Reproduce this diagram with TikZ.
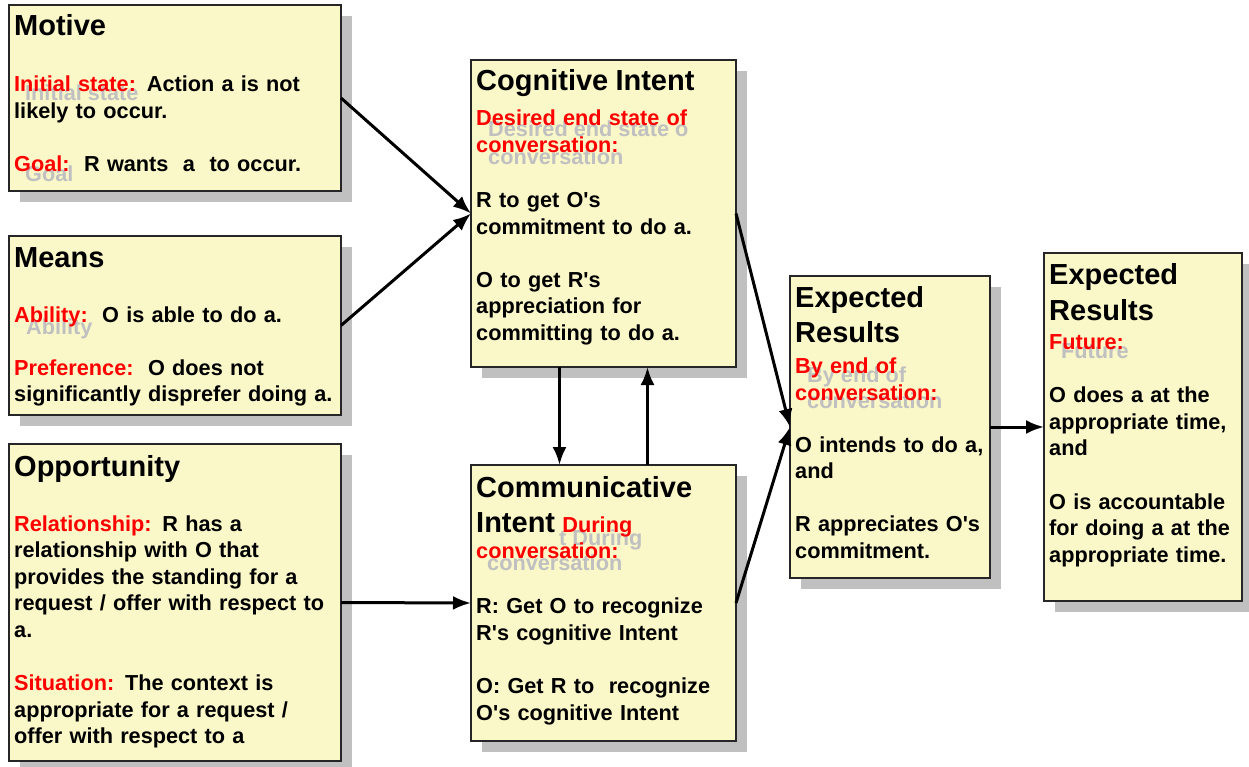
\documentclass[tikz,border=0pt]{standalone}
\usepackage{fontspec}
\setmainfont{Liberation Sans}
\usetikzlibrary{positioning,shadows,arrows.meta}
\definecolor{notefill}{RGB}{250,247,200}
\definecolor{shadegray}{RGB}{192,192,192}
\def\ttl{\fontsize{29}{34}\selectfont}
\def\rd#1{\textcolor{red}{#1}}
\def\ap{\textquotesingle}

\begin{document}
\begin{tikzpicture}[x=1pt,y=1pt,>={Latex[length=18pt,width=14pt]},font=\bfseries\fontsize{21.7}{26.6}\selectfont,
	note/.style={draw=black!85,line width=1.3pt,fill=notefill,minimum width=332pt,outer sep=0pt,inner sep=0pt,drop shadow={shadow xshift=11pt,shadow yshift=-11pt,opacity=1,fill=shadegray}},
	txt/.style={anchor=base west,inner sep=0pt,text width=340pt,align=left},
	ghost/.style={anchor=base west,inner sep=0pt,text=shadegray},
	flow/.style={->,line width=3pt}]
	\useasboundingbox (0,0) rectangle (1249,-767);
	\node [note,anchor=north west,minimum height=186pt] at (9,-5) (motive) {};
	\node [note,minimum height=179pt,below=45pt of motive] (means) {};
	\node [note,minimum height=317pt,below=29pt of means] (oppty) {};
	\node [note,anchor=north west,minimum width=265pt,minimum height=307pt] at (471,-60) (cogint) {};
	\node [note,minimum width=265pt,minimum height=276pt,below=98pt of cogint] (comint) {};
	\node [note,anchor=north west,minimum width=200pt,minimum height=302pt] at (790,-276) (expconv) {};
	\node [note,anchor=north west,minimum width=198pt,minimum height=348pt] at (1044,-253) (expfut) {};
	\node [ghost] at ([shift={(16,-96)}]motive.north west) (motive-g1) {Initial state};
	\node [ghost] at ([shift={(16,-177)}]motive.north west) (motive-g2) {Goal};
	\node [ghost] at ([shift={(17,-98)}]means.north west) (means-g1) {Ability};
	\node [ghost] at ([shift={(17,-77)}]cogint.north west) (cogint-g1) {Desired end state o};
	\node [ghost] at ([shift={(17,-105)}]cogint.north west) (cogint-g2) {conversation};
	\node [ghost] at ([shift={(88,-80)}]comint.north west) (comint-g1) {t During};
	\node [ghost] at ([shift={(16,-105)}]comint.north west) (comint-g2) {conversation};
	\node [ghost] at ([shift={(17,-106)}]expconv.north west) (expconv-g1) {By end of};
	\node [ghost] at ([shift={(17,-132)}]expconv.north west) (expconv-g2) {conversation};
	\node [ghost] at ([shift={(17,-105)}]expfut.north west) (expfut-g1) {Future};
	\node [txt] at ([shift={(5,-31)}]motive.north west) (motive-t) {{\ttl Motive}\\[29.4pt]
		\rd{Initial state:} Action a is not\\ likely to occur.\\[26pt]
		\rd{Goal:}\ \ R wants\ \ a\ \ to occur.};
	\node [txt] at ([shift={(5,-31)}]means.north west) (means-t) {{\ttl Means}\\[28.4pt]
		\rd{Ability:}\ \ O is able to do a.\\[26.6pt]
		\rd{Preference:}\ \ O does not\\ significantly disprefer doing a.};
	\node [txt] at ([shift={(5,-32)}]oppty.north west) (oppty-t) {{\ttl Opportunity}\\[28.4pt]
		\rd{Relationship:} R has a\\ relationship with O that\\ provides the standing for a\\ request / offer with respect to\\ a.\\[26.6pt]
		\rd{Situation:} The context is\\ appropriate for a request /\\ offer with respect to a};
	\node [txt] at ([shift={(5,-31)}]cogint.north west) (cogint-t) {{\ttl Cognitive Intent}\\[8.4pt]
		\rd{Desired end state of}\\ \rd{conversation:}\\[28.4pt]
		R to get O\ap s\\ commitment to do a.\\[26.6pt]
		O to get R\ap s\\ appreciation for\\ committing to do a.};
	\node [txt] at ([shift={(5,-32)}]comint.north west) (comint-t) {{\ttl Communicative}\\[8.4pt]
		{\ttl Intent} \rd{During}\\ \rd{conversation:}\\[28.4pt]
		R: Get O to recognize\\ R\ap s cognitive Intent\\[26.6pt]
		O: Get R to\ \ recognize\\ O\ap s cognitive Intent};
	\node [txt] at ([shift={(5,-31)}]expconv.north west) (expconv-t) {{\ttl Expected}\\[7.4pt]
		{\ttl Results}\\[4.4pt]
		\rd{By end of}\\ \rd{conversation:}\\[25.4pt]
		O intends to do a,\\ and\\[26.6pt]
		R appreciates O\ap s\\ commitment.};
	\node [txt] at ([shift={(5,-31)}]expfut.north west) (expfut-t) {{\ttl Expected}\\[8.4pt]
		{\ttl Results}\\[2.4pt]
		\rd{Future:}\\[26.6pt]
		O does a at the\\ appropriate time,\\ and\\[26.6pt]
		O is accountable\\ for doing a at the\\ appropriate time.};
	\draw [flow] (motive.east) -- (cogint.west);
	\draw [flow] (means.east) -- (cogint.west);
	\draw [flow] (oppty.east) -- (comint.west);
	\draw [flow] ([xshift=-44pt]cogint.south) -- ([xshift=-44pt]comint.north);
	\draw [flow] ([xshift=44pt]comint.north) -- ([xshift=44pt]cogint.south);
	\draw [flow] (cogint.east) -- (expconv.west);
	\draw [flow] (comint.east) -- (expconv.west);
	\draw [flow] (expconv.east) -- (expfut.west);
\end{tikzpicture}
\end{document}
